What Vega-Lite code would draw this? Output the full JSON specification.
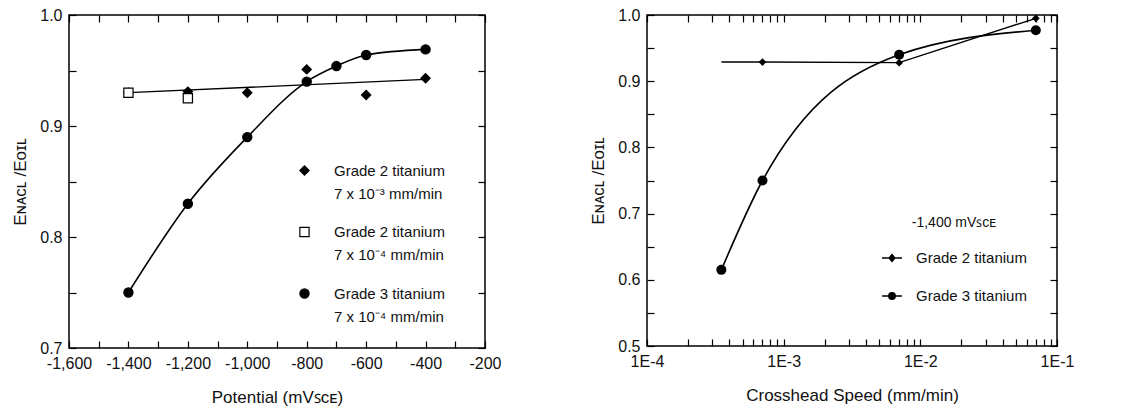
{
  "$schema": "https://vega.github.io/schema/vega-lite/v6.json",
  "background": "white",
  "padding": {"left": 11, "top": 6, "right": 5, "bottom": 5},
  "resolve": {"scale": {"shape": "independent", "fill": "independent", "stroke": "independent"}, "legend": {"shape": "independent", "fill": "independent", "stroke": "independent"}},
  "config": {
    "font": "Liberation Sans",
    "view": {"stroke": "black", "strokeWidth": 1.5},
    "style": {"guide-label": {"lineHeight": 23}},
    "axis": {
      "domain": false, "grid": false, "tickColor": "black", "tickSize": 7, "offset": -7, "tickWidth": 1.2,
      "labelPadding": 7, "labelFontSize": 16, "labelColor": "#111", "labelOverlap": false, "labelFlush": false,
      "titleFontSize": 17, "titleFontWeight": "normal", "titleColor": "#111", "labelFont": "Liberation Sans", "titleFont": "Liberation Sans"
    },
    "legend": {"labelFont": "Liberation Sans", "labelFontSize": 15, "labelColor": "#111", "titleColor": "#111", "titleFont": "Liberation Sans"}
  },
  "datasets": {
    "left": [
      {"potential": -1400, "ratio": 0.930, "grade": "Grade 2 titanium|7 x 10⁻³ mm/min"},
      {"potential": -1200, "ratio": 0.931, "grade": "Grade 2 titanium|7 x 10⁻³ mm/min"},
      {"potential": -1000, "ratio": 0.930, "grade": "Grade 2 titanium|7 x 10⁻³ mm/min"},
      {"potential": -800, "ratio": 0.951, "grade": "Grade 2 titanium|7 x 10⁻³ mm/min"},
      {"potential": -600, "ratio": 0.928, "grade": "Grade 2 titanium|7 x 10⁻³ mm/min"},
      {"potential": -400, "ratio": 0.943, "grade": "Grade 2 titanium|7 x 10⁻³ mm/min"},
      {"potential": -1400, "ratio": 0.930, "grade": "Grade 2 titanium|7 x 10⁻⁴ mm/min"},
      {"potential": -1200, "ratio": 0.925, "grade": "Grade 2 titanium|7 x 10⁻⁴ mm/min"},
      {"potential": -1400, "ratio": 0.750, "grade": "Grade 3 titanium|7 x 10⁻⁴ mm/min"},
      {"potential": -1200, "ratio": 0.830, "grade": "Grade 3 titanium|7 x 10⁻⁴ mm/min"},
      {"potential": -1000, "ratio": 0.890, "grade": "Grade 3 titanium|7 x 10⁻⁴ mm/min"},
      {"potential": -800, "ratio": 0.940, "grade": "Grade 3 titanium|7 x 10⁻⁴ mm/min"},
      {"potential": -700, "ratio": 0.954, "grade": "Grade 3 titanium|7 x 10⁻⁴ mm/min"},
      {"potential": -600, "ratio": 0.964, "grade": "Grade 3 titanium|7 x 10⁻⁴ mm/min"},
      {"potential": -400, "ratio": 0.969, "grade": "Grade 3 titanium|7 x 10⁻⁴ mm/min"}
    ],
    "leftfit": [
      {"potential": -1400, "ratio": 0.930},
      {"potential": -400, "ratio": 0.942}
    ],
    "right": [
      {"speed": 0.00035, "ratio": 0.929, "grade": "Grade 2 titanium", "pt": false},
      {"speed": 0.0007, "ratio": 0.929, "grade": "Grade 2 titanium", "pt": true},
      {"speed": 0.007, "ratio": 0.928, "grade": "Grade 2 titanium", "pt": true},
      {"speed": 0.07, "ratio": 0.995, "grade": "Grade 2 titanium", "pt": true},
      {"speed": 0.00035, "ratio": 0.615, "grade": "Grade 3 titanium", "pt": true},
      {"speed": 0.0007, "ratio": 0.750, "grade": "Grade 3 titanium", "pt": true},
      {"speed": 0.007, "ratio": 0.940, "grade": "Grade 3 titanium", "pt": true},
      {"speed": 0.07, "ratio": 0.977, "grade": "Grade 3 titanium", "pt": true}
    ]
  },
  "spacing": 87,
  "hconcat": [
    {
      "width": 416, "height": 333,
      "resolve": {"axis": {"x": "independent", "y": "independent"}},
      "layer": [
        {
          "data": {"name": "leftfit"},
          "mark": {"type": "line", "color": "black", "strokeWidth": 1.3},
          "encoding": {
            "x": {"field": "potential", "type": "quantitative", "scale": {"domain": [-1600, -200], "nice": false, "zero": false},
                  "axis": {"orient": "top", "labels": false, "title": null, "values": [-1600,-1500,-1400,-1300,-1200,-1100,-1000,-900,-800,-700,-600,-500,-400,-300,-200]}},
            "y": {"field": "ratio", "type": "quantitative", "scale": {"domain": [0.7, 1.0], "nice": false, "zero": false},
                  "axis": {"orient": "right", "labels": false, "title": null, "values": [0.7,0.75,0.8,0.85,0.9,0.95,1.0]}}
          }
        },
        {
          "data": {"name": "left"},
          "transform": [{"filter": "indexof(datum.grade, 'Grade 3') == 0"}],
          "mark": {"type": "line", "color": "black", "strokeWidth": 1.6, "interpolate": "monotone"},
          "encoding": {
            "x": {"field": "potential", "type": "quantitative", "axis": null},
            "y": {"field": "ratio", "type": "quantitative", "axis": null}
          }
        },
        {
          "data": {"name": "left"},
          "mark": {"type": "point", "strokeWidth": 1.2, "size": 85, "opacity": 1},
          "encoding": {
            "x": {"field": "potential", "type": "quantitative",
                  "axis": {"orient": "bottom", "title": "Potential (mVꜱᴄᴇ)", "titlePadding": 18,
                           "values": [-1600,-1500,-1400,-1300,-1200,-1100,-1000,-900,-800,-700,-600,-500,-400,-300,-200],
                           "labelExpr": "round(datum.value) % 200 == 0 ? replace(format(datum.value, ','), '\u2212', '-') : ''"}},
            "y": {"field": "ratio", "type": "quantitative",
                  "axis": {"orient": "left", "title": "Eɴᴀᴄʟ /Eᴏɪʟ", "titlePadding": 10,
                           "values": [0.7,0.75,0.8,0.85,0.9,0.95,1.0],
                           "labelExpr": "round(datum.value * 100) % 10 == 0 ? format(datum.value, '.1f') : ''"}},
            "shape": {"field": "grade", "type": "nominal",
                      "scale": {"domain": ["Grade 2 titanium|7 x 10⁻³ mm/min", "Grade 2 titanium|7 x 10⁻⁴ mm/min", "Grade 3 titanium|7 x 10⁻⁴ mm/min"], "range": ["diamond", "square", "circle"]},
                      "legend": {"orient": "none", "legendX": 228, "legendY": 148, "title": null, "padding": 0,
                                 "labelExpr": "split(datum.label, '|')", "labelBaseline": "middle", "labelOffset": 22,
                                 "rowPadding": 22.5, "symbolSize": 85, "symbolStrokeColor": "black", "symbolStrokeWidth": 1.2}},
            "fill": {"field": "grade", "type": "nominal",
                     "scale": {"domain": ["Grade 2 titanium|7 x 10⁻³ mm/min", "Grade 2 titanium|7 x 10⁻⁴ mm/min", "Grade 3 titanium|7 x 10⁻⁴ mm/min"], "range": ["black", "white", "black"]}},
            "stroke": {"field": "grade", "type": "nominal",
                     "scale": {"domain": ["Grade 2 titanium|7 x 10⁻³ mm/min", "Grade 2 titanium|7 x 10⁻⁴ mm/min", "Grade 3 titanium|7 x 10⁻⁴ mm/min"], "range": ["black", "black", "black"]}}
          }
        }
      ]
    },
    {
      "width": 410, "height": 331,
      "resolve": {"axis": {"x": "independent", "y": "independent"}},
      "layer": [
        {
          "data": {"name": "right"},
          "transform": [{"filter": "datum.grade == 'Grade 2 titanium'"}],
          "mark": {"type": "line", "color": "black", "strokeWidth": 1.4},
          "encoding": {
            "x": {"field": "speed", "type": "quantitative", "scale": {"type": "log", "domain": [0.0001, 0.1], "nice": false},
                  "axis": {"orient": "top", "labels": false, "title": null,
                           "values": [0.0001,0.0002,0.0003,0.0004,0.0005,0.0006,0.0007,0.0008,0.0009,0.001,0.002,0.003,0.004,0.005,0.006,0.007,0.008,0.009,0.01,0.02,0.03,0.04,0.05,0.06,0.07,0.08,0.09,0.1]}},
            "y": {"field": "ratio", "type": "quantitative", "scale": {"domain": [0.5, 1.0], "nice": false, "zero": false},
                  "axis": {"orient": "right", "labels": false, "title": null, "values": [0.5,0.55,0.6,0.65,0.7,0.75,0.8,0.85,0.9,0.95,1.0]}}
          }
        },
        {
          "data": {"name": "right"},
          "transform": [{"filter": "datum.grade == 'Grade 3 titanium'"}],
          "mark": {"type": "line", "color": "black", "strokeWidth": 1.6, "interpolate": "monotone"},
          "encoding": {
            "x": {"field": "speed", "type": "quantitative", "axis": null},
            "y": {"field": "ratio", "type": "quantitative", "axis": null}
          }
        },
        {
          "data": {"name": "right"},
          "transform": [{"filter": "datum.pt && datum.grade == 'Grade 2 titanium'"}],
          "mark": {"type": "point", "filled": true, "color": "black", "opacity": 1, "size": 60, "shape": "diamond"},
          "encoding": {
            "x": {"field": "speed", "type": "quantitative", "axis": null},
            "y": {"field": "ratio", "type": "quantitative", "axis": null}
          }
        },
        {
          "data": {"name": "right"},
          "transform": [{"filter": "datum.pt && datum.grade == 'Grade 3 titanium'"}],
          "mark": {"type": "point", "filled": true, "color": "black", "opacity": 1, "size": 100, "shape": "circle"},
          "encoding": {
            "x": {"field": "speed", "type": "quantitative",
                  "axis": {"orient": "bottom", "title": "Crosshead Speed (mm/min)", "titlePadding": 18,
                           "values": [0.0001,0.0002,0.0003,0.0004,0.0005,0.0006,0.0007,0.0008,0.0009,0.001,0.002,0.003,0.004,0.005,0.006,0.007,0.008,0.009,0.01,0.02,0.03,0.04,0.05,0.06,0.07,0.08,0.09,0.1],
                           "labelExpr": "datum.value == 0.0001 ? '1E-4' : datum.value == 0.001 ? '1E-3' : datum.value == 0.01 ? '1E-2' : datum.value == 0.1 ? '1E-1' : ''"}},
            "y": {"field": "ratio", "type": "quantitative",
                  "axis": {"orient": "left", "title": "Eɴᴀᴄʟ /Eᴏɪʟ", "titlePadding": 10,
                           "values": [0.5,0.55,0.6,0.65,0.7,0.75,0.8,0.85,0.9,0.95,1.0],
                           "labelExpr": "round(datum.value * 100) % 10 == 0 ? format(datum.value, '.1f') : ''"}}
          }
        },
        {
          "data": {"name": "right"},
          "transform": [{"filter": "false"}],
          "mark": {"type": "point", "filled": false, "fill": "black", "strokeWidth": 1.3, "opacity": 1},
          "encoding": {
            "x": {"field": "speed", "type": "quantitative", "axis": null},
            "y": {"field": "ratio", "type": "quantitative", "axis": null},
            "shape": {"field": "grade", "type": "nominal",
                      "scale": {"domain": ["Grade 2 titanium", "Grade 3 titanium"], "range": ["M-1,0H1M0,-0.35L0.3,0L0,0.35L-0.3,0Z", "M-1,0H1M-0.33,0A0.33,0.33,0,1,0,0.33,0A0.33,0.33,0,1,0,-0.33,0Z"]},
                      "legend": {"orient": "none", "legendX": 234, "legendY": 201, "title": "-1,400 mVꜱᴄᴇ", "padding": 0,
                                 "titleFontSize": 14, "titleFontWeight": "normal", "titlePadding": 17, "titleAnchor": "middle", "titleAlign": "center",
                                 "labelOffset": 13, "rowPadding": 19, "symbolSize": 400, "symbolFillColor": "black",
                                 "symbolStrokeColor": "black", "symbolStrokeWidth": 1.3}},
            "stroke": {"field": "grade", "type": "nominal",
                       "scale": {"domain": ["Grade 2 titanium", "Grade 3 titanium"], "range": ["black", "black"]}}
          }
        }
      ]
    }
  ]
}
